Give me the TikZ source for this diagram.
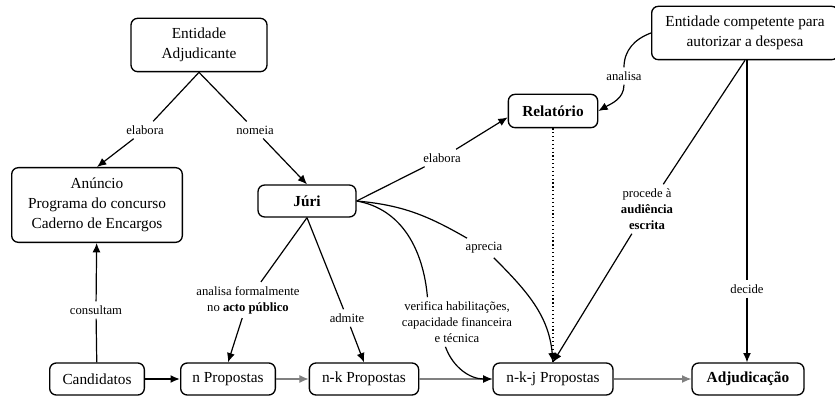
\documentclass[tikz,border=0pt]{standalone}
\usepackage{fontspec}
\setmainfont{Liberation Serif}
\usetikzlibrary{arrows.meta}
\newcommand{\conceitofont}{\fontsize{11.5}{15}\selectfont}
\newcommand{\ligafont}{\fontsize{9.5}{12}\selectfont}
\begin{document}
\begin{tikzpicture}[x=0.75pt,y=-0.75pt,
	conceito/.style={draw, rounded corners=5pt, line width=1pt, fill=white, align=center, inner sep=2pt, minimum height=24pt, font=\conceitofont},
	ligacao/.style={align=center, inner sep=3pt, font=\ligafont},
	linha/.style={line width=0.9pt},
	seta/.style={linha, -{Latex[length=7pt,width=6pt]}},
	cinza/.style={seta, gray}]
	\useasboundingbox (0,0) rectangle (835,399);
		\node (ea)   at (199,45)  [conceito, minimum width=102pt, minimum height=40pt] {Entidade\\Adjudicante};
		\node (ecomp)   at (745,33)  [conceito, minimum width=140pt, minimum height=40pt] {Entidade competente para\\autorizar a despesa};
		%
		\node (anuncio)   at (97,205)  [conceito, minimum width=128pt, minimum height=56pt] {Anúncio\\Programa do concurso\\Caderno de Encargos};
		\node (juri)   at (307,201)  [conceito, minimum width=73.5pt] {\textbf{Júri}};
		\node (rel)   at (553,111)  [conceito, minimum width=67pt, minimum height=25pt] {\textbf{Relatório}};
		%
		\node (cand)   at (97,379)  [conceito, minimum width=71pt] {Candidatos};
		\node (nprop)   at (228,379)  [conceito, minimum width=71pt] {n Propostas};
		\node (nkprop)   at (364,379)  [conceito, minimum width=82pt] {n-k Propostas};
		\node (nkjprop)   at (553,379)  [conceito, minimum width=90pt] {n-k-j Propostas};
		\node (adjud)   at (748,379)  [conceito, minimum width=84pt] {\textbf{Adjudicação}};
		%
		\node (elab1)   at (145,130)  [ligacao] {elabora};
		\node (nomeia)   at (255,130)  [ligacao] {nomeia};
		\node (consultam)   at (96,310)  [ligacao] {consultam};
		\node (anform)   at (248,300)  [ligacao] {analisa formalmente\\no \textbf{acto público}};
		\node (admite)   at (347,318)  [ligacao] {admite};
		\node (elab2)   at (442,158)  [ligacao] {elabora};
		\node (analisa)   at (624,76)  [ligacao] {analisa};
		\node (procede)   at (647,209)  [ligacao] {procede à\\\textbf{audiência}\\\textbf{escrita}};
		\node (aprecia)   at (484,248)  [ligacao] {aprecia};
		\node (verifica)   at (457,322)  [ligacao] {verifica habilitações,\\capacidade financeira\\e técnica};
		\node (decide)   at (747,289)  [ligacao] {decide};
		%
		\draw[linha] (ea.south) -- (elab1);
		\draw[seta] (elab1) -- (anuncio.north);
		\draw[linha] (ea.south) -- (nomeia);
		\draw[seta] (nomeia) -- (juri.north);
		\draw[linha] (cand) -- (consultam);
		\draw[seta] (consultam) -- (anuncio);
		% propostas
		\draw[seta, line width=1.3pt] (cand) -- (nprop);
		\draw[cinza] (nprop) -- (nkprop);
		\draw[cinza] (nkprop) -- (nkjprop);
		\draw[cinza] (nkjprop) -- (adjud);
		% juri
		\draw[linha] (juri.south) -- (anform);
		\draw[seta] (anform) -- (nprop.north);
		\draw[linha] (juri.south) -- (admite);
		\draw[seta] (admite) -- (nkprop.north);
		\draw[linha] (juri.east) -- (elab2);
		\draw[seta] (elab2) -- (rel.188);
		\draw[linha] (juri.east) to[out=-5,in=150] (aprecia);
		\draw[seta] (aprecia) to[out=-45,in=95] (nkjprop.north);
		\draw[linha] (juri.east) to[out=-10,in=95] (verifica.140);
		\draw[seta] (verifica.-115) to[out=-70,in=180] (nkjprop.west);
		% relatorio
		\draw[linha] (ecomp.west) to[out=200,in=90] (analisa);
		\draw[seta] (analisa) to[out=-90,in=30] (rel.east);
		\draw[linha, dotted] (rel) -- (nkjprop);
		% entidade competente
		\draw[linha] (ecomp.south) -- (procede);
		\draw[seta] (procede) -- (nkjprop.north);
		\draw[linha] (decide |- ecomp.south) -- (decide);
		\draw[seta] (decide) -- (decide |- adjud.north);
	\end{tikzpicture}
\end{document}
